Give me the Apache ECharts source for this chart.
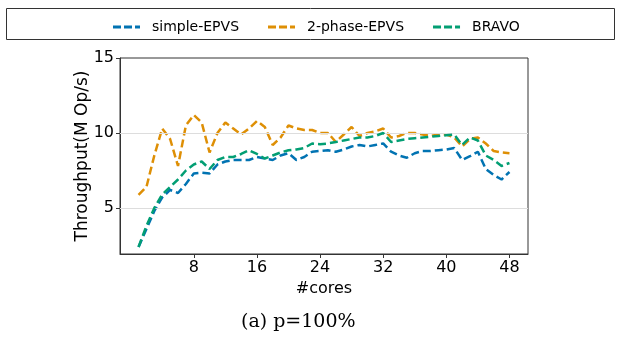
<!DOCTYPE html>
<html>
<head>
<meta charset="utf-8">
<script src="https://cdn.jsdelivr.net/npm/echarts@6/dist/echarts.min.js"></script>
<style>
  html, body { margin: 0; padding: 0; background: #fff; }
  #chart { width: 621px; height: 338px; }
</style>
</head>
<body>
<div id="chart"></div>
<script>
// cores 1..48
const cores = [];
for (let i = 1; i <= 48; i++) cores.push(i);

const simpleEPVS = [2.4, 3.6, 4.8, 5.7, 6.2, 6.0, 6.6, 7.3, 7.35, 7.3,
  7.9, 8.1, 8.2, 8.2, 8.2, 8.4, 8.3, 8.2, 8.5, 8.65,
  8.2, 8.4, 8.75, 8.8, 8.85, 8.75, 8.9, 9.1, 9.2, 9.1,
  9.2, 9.3, 8.75, 8.5, 8.35, 8.65, 8.8, 8.8, 8.85, 8.9,
  9.0, 8.2, 8.45, 8.75, 7.6, 7.2, 6.9, 7.4];
const twoPhaseEPVS = [5.87, 6.4, 8.5, 10.3, 9.6, 7.8, 10.5, 11.2, 10.7, 8.7,
  10.0, 10.7, 10.3, 9.9, 10.3, 10.8, 10.4, 9.2, 9.7, 10.5,
  10.3, 10.2, 10.2, 10.0, 10.0, 9.4, 9.9, 10.4, 9.8, 10.0,
  10.1, 10.3, 9.7, 9.8, 10.0, 10.0, 9.9, 9.8, 9.9, 9.9,
  9.7, 9.1, 9.6, 9.7, 9.3, 8.8, 8.7, 8.65];
const bravo = [2.4, 3.8, 5.0, 5.9, 6.4, 6.9, 7.5, 7.9, 8.1, 7.6,
  8.2, 8.4, 8.4, 8.6, 8.85, 8.6, 8.3, 8.5, 8.7, 8.85,
  8.9, 9.0, 9.3, 9.25, 9.3, 9.4, 9.5, 9.6, 9.7, 9.7,
  9.8, 10.0, 9.4, 9.5, 9.6, 9.65, 9.7, 9.75, 9.8, 9.85,
  9.9, 9.2, 9.7, 9.5, 8.5, 8.2, 7.8, 8.0];

const xTicks = [8, 16, 24, 32, 40, 48];
const yTicks = [5, 10, 15];
const yGrid = [5, 10];

const names = ["simple-EPVS", "2-phase-EPVS", "BRAVO"];
const colors = ["#0173b2", "#de8f05", "#029e73"];
const values = [simpleEPVS, twoPhaseEPVS, bravo];

const font = "DejaVu Sans";
// dashed legend sample, like matplotlib's "--"
const dashIcon = "path://M0,0h8v3h-8z M11,0h8v3h-8z M22,0h5v3h-5z";

let myChart = echarts.init(document.getElementById("chart"));

const series = values.map(function (v, i) {
  return {
    name: names[i],
    type: "line",
    symbol: "none",
    z: 3 + i,
    data: cores.map(function (c, k) { return [c, v[k]]; }),
    lineStyle: { color: colors[i], width: 2.5, type: [8, 4] },
    itemStyle: { color: colors[i] }
  };
});
// light grid lines behind the data
series.push({
  type: "line",
  data: [],
  z: 1,
  silent: true,
  markLine: {
    silent: true,
    symbol: "none",
    label: { show: false },
    lineStyle: { color: "#dddddd", width: 1, type: "solid" },
    data: yGrid.map(function (g) { return { yAxis: g }; })
  }
});

myChart.setOption({
  animation: false,
  textStyle: { fontFamily: font },
  graphic: [
    {
      type: "rect",
      shape: { x: 6.5, y: 8.5, width: 608, height: 31 },
      style: { fill: "none", stroke: "#333", lineWidth: 1 }
    },
    {
      type: "text",
      left: 241,
      top: 313,
      style: {
        text: "(a) p=100%",
        font: "19px 'DejaVu Serif'",
        fill: "#000"
      }
    }
  ],
  legend: {
    top: 15,
    left: 108,
    icon: dashIcon,
    itemWidth: 27,
    itemHeight: 3,
    itemGap: 29,
    data: names,
    textStyle: { fontFamily: font, fontSize: 14, color: "#000", padding: [0, 0, 0, 7] }
  },
  grid: {
    left: 120,
    right: 93,
    top: 58,
    bottom: 84,
    show: true,
    borderColor: "#333",
    borderWidth: 1
  },
  xAxis: {
    type: "value",
    min: -1.35,
    max: 50.35,
    name: "#cores",
    nameLocation: "middle",
    nameGap: 24,
    nameTextStyle: { fontFamily: font, fontSize: 16, color: "#000" },
    axisLine: { onZero: false, lineStyle: { color: "#333" } },
    axisTick: { customValues: xTicks, length: 4, lineStyle: { color: "#333" } },
    axisLabel: { customValues: xTicks, fontFamily: font, fontSize: 16, color: "#000", margin: 6 },
    splitLine: { show: false }
  },
  yAxis: {
    type: "value",
    min: 1.93,
    max: 15,
    name: "Throughput(M Op/s)",
    nameLocation: "middle",
    nameGap: 29,
    nameMoveOverlap: false,
    nameTextStyle: { fontFamily: font, fontSize: 17, color: "#000" },
    axisLine: { show: true, onZero: false, lineStyle: { color: "#333" } },
    axisTick: { show: true, customValues: yTicks, length: 4, lineStyle: { color: "#333" } },
    axisLabel: { customValues: yTicks, fontFamily: font, fontSize: 16, color: "#000", margin: 6 },
    splitLine: { show: false }
  },
  series: series
});
</script>
</body>
</html>
